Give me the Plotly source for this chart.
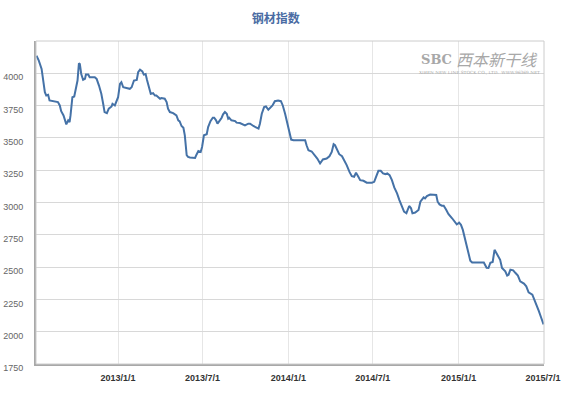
import plotly.graph_objects as go

dates = [
    "2012-07-10", "2012-07-15", "2012-07-21", "2012-07-24", "2012-07-28", "2012-07-31",
    "2012-08-04", "2012-08-07", "2012-08-18", "2012-08-25", "2012-08-29", "2012-09-01",
    "2012-09-06", "2012-09-10", "2012-09-12", "2012-09-16", "2012-09-19", "2012-09-21",
    "2012-09-25", "2012-09-29", "2012-10-02", "2012-10-06", "2012-10-09", "2012-10-11",
    "2012-10-14", "2012-10-18", "2012-10-22", "2012-10-24", "2012-10-29", "2012-11-01",
    "2012-11-12", "2012-11-16", "2012-11-21", "2012-11-26", "2012-11-30", "2012-12-03",
    "2012-12-08", "2012-12-12", "2012-12-18", "2012-12-20", "2012-12-25", "2012-12-29",
    "2013-01-01", "2013-01-05", "2013-01-08", "2013-01-12", "2013-01-19", "2013-01-26",
    "2013-01-30", "2013-02-04", "2013-02-10", "2013-02-13", "2013-02-17", "2013-02-22",
    "2013-02-25", "2013-03-01", "2013-03-04", "2013-03-08", "2013-03-12", "2013-03-17",
    "2013-03-21", "2013-03-24", "2013-03-28", "2013-04-01", "2013-04-04", "2013-04-11",
    "2013-04-15", "2013-04-18", "2013-04-22", "2013-04-29", "2013-05-06", "2013-05-10",
    "2013-05-13", "2013-05-17", "2013-05-21", "2013-05-24", "2013-05-28", "2013-05-31",
    "2013-06-04", "2013-06-15", "2013-06-18", "2013-06-22", "2013-06-27", "2013-06-30",
    "2013-07-04", "2013-07-10", "2013-07-13", "2013-07-18", "2013-07-23", "2013-07-26",
    "2013-07-30", "2013-08-02", "2013-08-06", "2013-08-11", "2013-08-14", "2013-08-18",
    "2013-08-22", "2013-08-25", "2013-08-27", "2013-09-01", "2013-09-09", "2013-09-12",
    "2013-09-19", "2013-09-26", "2013-09-30", "2013-10-07", "2013-10-11", "2013-10-18",
    "2013-10-25", "2013-10-29", "2013-11-01", "2013-11-05", "2013-11-10", "2013-11-14",
    "2013-11-19", "2013-11-24", "2013-11-28", "2013-12-03", "2013-12-10", "2013-12-16",
    "2013-12-20", "2013-12-25", "2013-12-30", "2014-01-03", "2014-01-07", "2014-01-12",
    "2014-02-06", "2014-02-09", "2014-02-13", "2014-02-20", "2014-02-27", "2014-03-04",
    "2014-03-10", "2014-03-16", "2014-03-24", "2014-03-30", "2014-04-04", "2014-04-08",
    "2014-04-11", "2014-04-16", "2014-04-20", "2014-04-26", "2014-05-01", "2014-05-06",
    "2014-05-12", "2014-05-17", "2014-05-22", "2014-05-26", "2014-05-31", "2014-06-04",
    "2014-06-11", "2014-06-18", "2014-06-29", "2014-07-04", "2014-07-08", "2014-07-13",
    "2014-07-18", "2014-07-23", "2014-07-28", "2014-08-01", "2014-08-06", "2014-08-11",
    "2014-08-16", "2014-08-22", "2014-08-27", "2014-09-01", "2014-09-06", "2014-09-11",
    "2014-09-14", "2014-09-17", "2014-09-21", "2014-09-24", "2014-09-30", "2014-10-07",
    "2014-10-11", "2014-10-14", "2014-10-18", "2014-10-21", "2014-10-25", "2014-11-01",
    "2014-11-08", "2014-11-14", "2014-11-17", "2014-11-21", "2014-11-26", "2014-11-30",
    "2014-12-05", "2014-12-10", "2014-12-18", "2014-12-25", "2014-12-28", "2015-01-02",
    "2015-01-06", "2015-01-10", "2015-01-15", "2015-01-20", "2015-01-26", "2015-01-30",
    "2015-02-24", "2015-03-02", "2015-03-06", "2015-03-10", "2015-03-15", "2015-03-19",
    "2015-03-21", "2015-03-26", "2015-03-31", "2015-04-04", "2015-04-11", "2015-04-15",
    "2015-04-18", "2015-04-22", "2015-04-28", "2015-05-03", "2015-05-08", "2015-05-13",
    "2015-05-21", "2015-05-26", "2015-05-31", "2015-06-08", "2015-06-11", "2015-06-17",
    "2015-06-22", "2015-06-27", "2015-07-02",
]

index_values = [
    4136, 4098, 4034, 3969, 3854, 3828,
    3834, 3790, 3782, 3777, 3751, 3707,
    3674, 3636, 3605, 3636, 3623, 3674,
    3815, 3820, 3867, 3944, 4077, 4072,
    3995, 3949, 3957, 3990, 3990, 3969,
    3969, 3957, 3905, 3841, 3764, 3700,
    3692, 3726, 3743, 3764, 3751, 3790,
    3815, 3918, 3931, 3892, 3887, 3880,
    3892, 3944, 3949, 4008, 4028, 4015,
    3990, 3995, 3949, 3892, 3841, 3846,
    3828, 3828, 3815, 3803, 3808, 3803,
    3777, 3726, 3700, 3692, 3674, 3636,
    3628, 3592, 3578, 3520, 3366, 3353,
    3348, 3345, 3370, 3399, 3391, 3430,
    3520, 3528, 3584, 3630, 3656, 3656,
    3636, 3610, 3630, 3656, 3682, 3700,
    3687, 3649, 3656, 3636, 3630, 3618,
    3615, 3605, 3597, 3610, 3610, 3592,
    3576, 3572, 3610, 3687, 3738, 3743,
    3718, 3733, 3751, 3784, 3790, 3784,
    3751, 3687, 3610, 3559, 3487, 3482,
    3482, 3443, 3404, 3395, 3366, 3340,
    3302, 3333, 3340, 3358, 3391, 3451,
    3443, 3410, 3374, 3358, 3327, 3289,
    3237, 3204, 3199, 3230, 3199, 3173,
    3168, 3153, 3153, 3160, 3199, 3245,
    3245, 3225, 3220, 3225, 3212, 3173,
    3117, 3071, 3019, 2973, 2929, 2917,
    2948, 2973, 2955, 2917, 2922, 2942,
    3006, 3019, 3040, 3032, 3050, 3062,
    3062, 3058, 3006, 2985, 2975, 2975,
    2945, 2911, 2878, 2847, 2830, 2844,
    2827, 2788, 2711, 2625, 2550, 2536,
    2536, 2495, 2493, 2534, 2540, 2634,
    2621, 2596, 2557, 2493, 2467, 2434,
    2441, 2480, 2475, 2454, 2434, 2390,
    2372, 2351, 2305, 2287, 2262, 2210,
    2159, 2108, 2056,
]

y_ticks = [1750, 2000, 2250, 2500, 2750, 3000, 3250, 3500, 3750, 4000]
x_ticks = ["2013-01-01", "2013-07-01", "2014-01-01", "2014-07-01", "2015-01-01", "2015-07-01"]
x_tick_labels = ["2013/1/1", "2013/7/1", "2014/1/1", "2014/7/1", "2015/1/1", "2015/7/1"]

fig = go.Figure()
fig.add_trace(go.Scatter(
    x=dates, y=index_values, mode="lines",
    line=dict(color="#4572A7", width=2),
    hoverinfo="skip", showlegend=False,
))

fig.update_layout(
    width=564, height=393,
    margin=dict(l=36, r=20, t=41, b=29, autoexpand=False),
    paper_bgcolor="white", plot_bgcolor="white",
    font=dict(family="DejaVu Sans, Arial, sans-serif"),
    title=dict(
        text="<b>钢材指数</b>",
        x=0.472, xref="paper", xanchor="center",
        y=0.953, yref="container", yanchor="middle",
        font=dict(family="Noto Sans CJK SC", size=12, color="#4A6CA3"),
    ),
    xaxis=dict(
        type="date",
        range=["2012-07-09", "2015-07-03"],
        tickvals=x_ticks, ticktext=x_tick_labels,
        tickfont=dict(family="Liberation Sans, Arial", size=9, color="#333333", weight="bold"),
        showgrid=True, gridcolor="#E6E6E6", gridwidth=1,
        showline=True, linecolor="#A8A8A8", linewidth=2,
        ticks="", ticklabelstandoff=4, zeroline=False, fixedrange=True,
        automargin=False,
    ),
    yaxis=dict(
        range=[1750, 4250],
        tickvals=y_ticks,
        tickfont=dict(family="Liberation Sans, Arial", size=9, color="#666666"),
        showgrid=True, gridcolor="#D8D8D8", gridwidth=1,
        showline=True, linecolor="#A8A8A8", linewidth=2,
        ticks="", ticklabelstandoff=9, ticklabelshift=4,
        zeroline=False, fixedrange=True, automargin=False,
    ),
)

fig.add_shape(
    type="rect", xref="paper", yref="paper", x0=0, y0=0, x1=1, y1=1,
    line=dict(color="#CCCCCC", width=1), layer="above",
)

# watermark logo
fig.add_annotation(
    xref="paper", yref="paper", x=0.788, y=0.943, xanchor="center", yanchor="middle",
    text="<b>SBC</b>", showarrow=False,
    font=dict(family="DejaVu Serif", size=13, color="#A8A8A8"),
)
fig.add_annotation(
    xref="paper", yref="paper", x=0.993, y=0.943, xanchor="right", yanchor="middle",
    text="<i>西本新干线</i>", showarrow=False,
    font=dict(family="Noto Sans CJK SC", size=16, color="#A8A8A8"),
)
fig.add_annotation(
    xref="paper", yref="paper", x=0.996, y=0.902, xanchor="right", yanchor="middle",
    text="XIBEN NEW LINE STOCK CO., LTD.  WWW.96369.NET", showarrow=False,
    font=dict(family="DejaVu Serif", size=4.3, color="#A8A8A8"),
)

fig.write_html(
    "out.html",
    config={"displayModeBar": False},
    post_script="document.body.style.margin='0';document.body.style.overflow='hidden';",
)
